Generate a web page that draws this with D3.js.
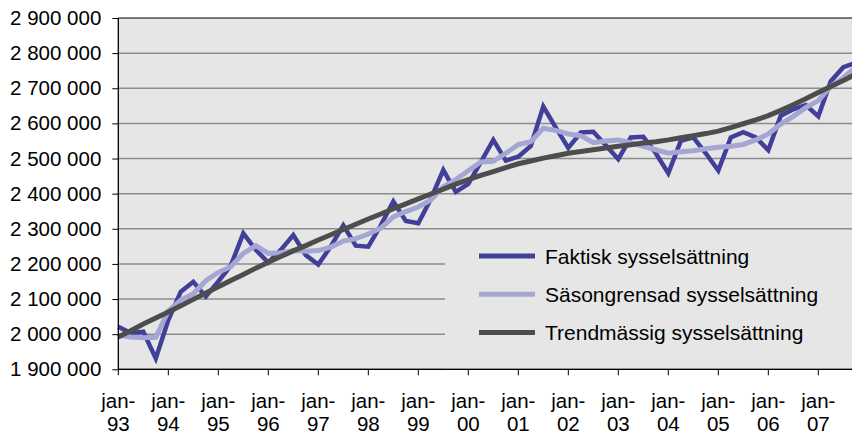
<!DOCTYPE html>
<html>
<head>
<meta charset="utf-8">
<script src="https://cdn.jsdelivr.net/npm/d3@7"></script>
<style>
  body { margin: 0; background: #fff; }
  text { font-family: "Liberation Sans", Arial, sans-serif; }
</style>
</head>
<body>
<svg width="852" height="437"></svg>
<script>
// Tick labels (one per january) and quarterly series, jan-93 .. okt-07
var years = ["93","94","95","96","97","98","99","00","01","02","03","04","05","06","07"];

var faktisk = [
  2021000, 2003000, 2007000, 1931000,
  2040000, 2121000, 2149000, 2107000,
  2150000, 2195000, 2287000, 2240000,
  2204000, 2240000, 2282000, 2225000,
  2198000, 2250000, 2310000, 2252000,
  2249000, 2310000, 2378000, 2322000,
  2316000, 2385000, 2467000, 2405000,
  2428000, 2490000, 2553000, 2494000,
  2505000, 2536000, 2648000, 2588000,
  2530000, 2574000, 2576000, 2538000,
  2498000, 2560000, 2562000, 2515000,
  2458000, 2550000, 2560000, 2515000,
  2466000, 2560000, 2575000, 2560000,
  2524000, 2622000, 2640000, 2652000,
  2620000, 2720000, 2760000, 2772000
];

var sasong = [
  1997000, 1992000, 1990000, 1991000,
  2066000, 2097000, 2115000, 2152000,
  2176000, 2192000, 2230000, 2252000,
  2230000, 2232000, 2238000, 2236000,
  2238000, 2248000, 2265000, 2272000,
  2285000, 2302000, 2334000, 2349000,
  2362000, 2382000, 2420000, 2440000,
  2465000, 2490000, 2492000, 2515000,
  2540000, 2548000, 2586000, 2580000,
  2570000, 2565000, 2545000, 2550000,
  2553000, 2545000, 2535000, 2525000,
  2515000, 2519000, 2522000, 2528000,
  2532000, 2535000, 2540000, 2553000,
  2570000, 2598000, 2620000, 2645000,
  2665000, 2705000, 2730000, 2760000
];

var trend = [
  1992000, 2010000, 2029000, 2046000,
  2063000, 2081000, 2099000, 2117000,
  2135000, 2153000, 2170000, 2188000,
  2205000, 2221000, 2237000, 2252000,
  2268000, 2283000, 2298000, 2313000,
  2328000, 2342000, 2357000, 2371000,
  2385000, 2399000, 2413000, 2427000,
  2440000, 2452000, 2463000, 2474000,
  2485000, 2493000, 2501000, 2508000,
  2515000, 2520000, 2525000, 2530000,
  2535000, 2539000, 2544000, 2548000,
  2553000, 2559000, 2565000, 2571000,
  2578000, 2588000, 2599000, 2610000,
  2622000, 2637000, 2653000, 2670000,
  2688000, 2705000, 2722000, 2740000
];

var seriesNames = ["Faktisk sysselsättning", "Säsongrensad sysselsättning", "Trendmässig sysselsättning"];
var seriesColors = ["#40409a", "#a6a6d4", "#4d4d4d"];
var seriesWidths = [4.5, 5, 5];

var svg = d3.select("svg");

// plot area (right edge runs past the picture, like the original crop)
var plotLeft = 118.3, plotTop = 18, plotBottom = 369.3;
var x = d3.scaleLinear().domain([0, faktisk.length - 1]).range([plotLeft, plotLeft + 12.5 * (faktisk.length - 1)]);
var y = d3.scaleLinear().domain([1900000, 2900000]).range([plotBottom, plotTop]);

svg.append("rect")
    .attr("x", plotLeft).attr("y", plotTop)
    .attr("width", 852 - plotLeft).attr("height", plotBottom - plotTop)
    .attr("fill", "#e6e6e6");

// gridlines
var yticks = d3.range(1900000, 2900001, 100000);
svg.append("g")
    .selectAll("line")
    .data(yticks)
    .enter()
    .append("line")
    .attr("x1", plotLeft).attr("x2", 852)
    .attr("y1", function(d) { return y(d); })
    .attr("y2", function(d) { return y(d); })
    .style("stroke", function(d) { return d === 2900000 ? "#000" : "#8c8c8c"; })
    .style("stroke-width", function(d) { return d === 2900000 ? 1.2 : 1.5; });

// y axis labels with space as thousands separator
var fmt = function(d) { return d3.format(",")(d).replace(/,/g, " "); };
var yAxis = d3.axisLeft(y).tickValues(yticks).tickSize(6).tickPadding(11).tickFormat(fmt);
var gy = svg.append("g").attr("transform", "translate(" + plotLeft + ",0)").call(yAxis);
gy.select(".domain").remove();
gy.selectAll("line").style("stroke", "#000");
gy.selectAll("text").style("font-size", "20.5px").attr("fill", "#000");

// lines
var line = d3.line()
    .x(function(d, i) { return x(i); })
    .y(function(d) { return y(d); });

var allSeries = [faktisk, sasong, trend];

// legend background covers the gridlines
var lg = svg.append("g");
lg.append("rect")
    .attr("x", 445).attr("y", 238)
    .attr("width", 852 - 445).attr("height", plotBottom - 238 - 1)
    .attr("fill", "#e6e6e6");

allSeries.forEach(function(s, k) {
    svg.append("path")
        .datum(s)
        .attr("d", line)
        .style("fill", "none")
        .style("stroke", seriesColors[k])
        .style("stroke-width", seriesWidths[k])
        .style("stroke-linejoin", "miter");
});

seriesNames.forEach(function(name, k) {
    var yy = 256 + k * 38.3;
    lg.append("line")
        .attr("x1", 479).attr("x2", 535)
        .attr("y1", yy).attr("y2", yy)
        .style("stroke", seriesColors[k])
        .style("stroke-width", 5);
    lg.append("text")
        .attr("x", 545).attr("y", yy + 7.5)
        .style("font-size", "21px")
        .attr("fill", "#000")
        .text(name);
});

// axes lines
svg.append("line")
    .attr("x1", plotLeft).attr("x2", plotLeft).attr("y1", plotTop).attr("y2", plotBottom)
    .style("stroke", "#000").style("stroke-width", 1.3);
svg.append("line")
    .attr("x1", plotLeft).attr("x2", 852).attr("y1", plotBottom).attr("y2", plotBottom)
    .style("stroke", "#000").style("stroke-width", 1.3);

// x ticks and two-line labels
var xt = svg.append("g")
    .selectAll("g")
    .data(years)
    .enter()
    .append("g")
    .attr("transform", function(d, i) { return "translate(" + x(i * 4) + "," + plotBottom + ")"; });
xt.append("line").attr("y1", 0).attr("y2", 6).style("stroke", "#000");
xt.append("text")
    .attr("text-anchor", "middle").attr("y", 39)
    .style("font-size", "20.5px").attr("fill", "#000")
    .text("jan-");
xt.append("text")
    .attr("text-anchor", "middle").attr("y", 62)
    .style("font-size", "20.5px").attr("fill", "#000")
    .text(function(d) { return d; });
</script>
</body>
</html>
